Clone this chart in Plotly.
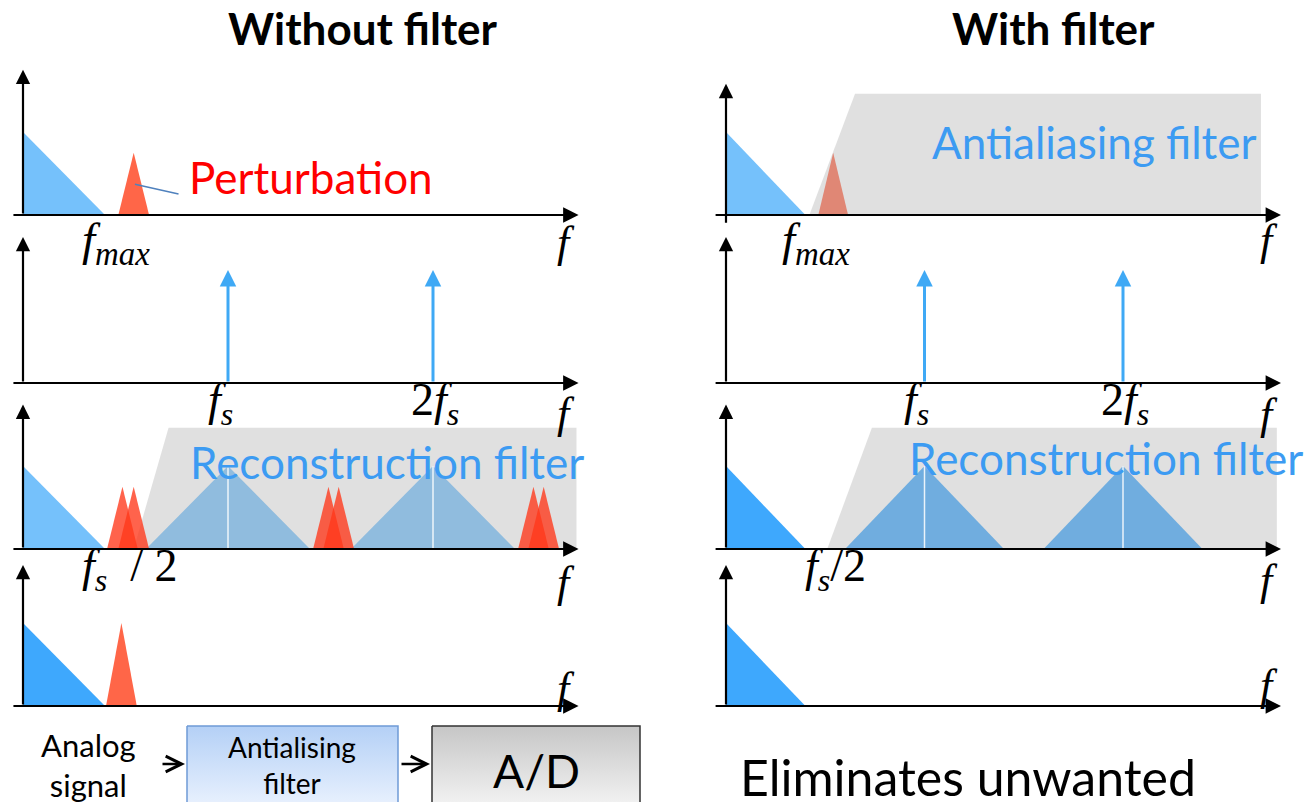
import plotly.graph_objects as go

W, H = 1309, 802

# spectrum values, frequency in arbitrary units with fs = 10
F_MAX = 4.0
SAMPLE_FREQS = [10.0, 20.0]
BASEBAND_HEIGHT = 1.0
SAMPLE_HEIGHT = 1.36
PERT_CENTER = 5.4
PERT_HALF = 0.75
PERT_HEIGHT = 0.75
ALIAS_CENTERS = [4.85, 5.4, 14.9, 15.4, 24.9, 25.4]
OUT_PERT_CENTER = 4.8
OUT_PERT_HEIGHT = 1.0
AA_FILTER_X = [4.2, 6.5, 26.95, 26.95]
AA_FILTER_Y = [0, 1.46, 1.46, 0]
RECON_LEFT_X = [5.4, 7.1, 27.0, 27.0]
RECON_RIGHT_X = [5.1, 7.35, 27.75, 27.75]
RECON_Y = [0, 1.46, 1.46, 0]
FS_HALF = 5.0

TITLES = ["Without filter", "With filter"]
ROW_BASE = [215, 383, 549, 706]
Y_PX = 83.0
COLS = [dict(origin=23, scale=20.5, lo=0, hi=654, xtail=-0.54, xtip=27.1),
        dict(origin=726, scale=19.85, lo=654, hi=1309, xtail=-0.6, xtip=27.96)]

LIGHT = "#75C1FB"
DARK = "#3EA8FD"
RED = "#FF6648"
GRAY_OVER = "rgba(182,182,182,0.42)"
ALIAS_RED = "rgba(255,55,25,0.78)"
TEXT_BLUE = "#3C9BF2"

fig = go.Figure()
layout = dict(width=W, height=H, margin=dict(l=0, r=0, t=0, b=0),
              paper_bgcolor="white", plot_bgcolor="rgba(0,0,0,0)",
              showlegend=False, hovermode=False)
annotations = []


def ax_names(col, row):
    p = col * 4 + row + 1
    return ("x" if p == 1 else f"x{p}"), ("y" if p == 1 else f"y{p}"), p


def tri(xc, half, h):
    return [xc - half, xc, xc + half, xc - half], [0, h, 0, 0]


def poly(col, row, xs, ys, color):
    xa, ya, _ = ax_names(col, row)
    fig.add_trace(go.Scatter(x=xs, y=ys, xaxis=xa, yaxis=ya, mode="lines",
                             line=dict(width=0), fill="toself", fillcolor=color))


def vline(col, row, xv, h, color, width):
    xa, ya, _ = ax_names(col, row)
    fig.add_trace(go.Scatter(x=[xv, xv], y=[0, h], xaxis=xa, yaxis=ya, mode="lines",
                             line=dict(color=color, width=width)))


def label(col, row, xv, text, yshift, xshift=0, size=44, color="black", yv=0, family="Liberation Serif"):
    xa, ya, _ = ax_names(col, row)
    annotations.append(dict(x=xv, y=yv, xref=xa, yref=ya, text=text, showarrow=False,
                            xanchor="center", yanchor="middle", yshift=yshift, xshift=xshift,
                            font=dict(family=family, size=size, color=color)))


# axes
for c, cfg in enumerate(COLS):
    for r, base in enumerate(ROW_BASE):
        xa, ya, p = ax_names(c, r)
        key = "" if p == 1 else str(p)
        layout["xaxis" + key] = dict(
            domain=[cfg["lo"] / W, cfg["hi"] / W], visible=False, anchor=ya,
            range=[(cfg["lo"] - cfg["origin"]) / cfg["scale"], (cfg["hi"] - cfg["origin"]) / cfg["scale"]])
        layout["yaxis" + key] = dict(
            domain=[1 - (base + 12) / H, 1 - (base - 150) / H], visible=False, anchor=xa,
            range=[-12 / Y_PX, 150 / Y_PX])

# left column, row 1: input spectrum with perturbation
poly(0, 0, [0, 0, F_MAX, 0], [0, BASEBAND_HEIGHT, 0, 0], LIGHT)
poly(0, 0, *tri(PERT_CENTER, PERT_HALF, PERT_HEIGHT), RED)
# left row 3: sampled spectrum with aliases
poly(0, 2, [0, 0, F_MAX, 0], [0, BASEBAND_HEIGHT, 0, 0], LIGHT)
for fsv in SAMPLE_FREQS:
    poly(0, 2, [fsv - F_MAX, fsv, fsv + F_MAX, fsv - F_MAX], [0, BASEBAND_HEIGHT, 0, 0], LIGHT)
poly(0, 2, RECON_LEFT_X + [RECON_LEFT_X[0]], RECON_Y + [RECON_Y[0]], GRAY_OVER)
for fsv in SAMPLE_FREQS:
    vline(0, 2, fsv, BASEBAND_HEIGHT, "rgba(255,255,255,0.85)", 1.5)
for ac in ALIAS_CENTERS:
    poly(0, 2, *tri(ac, PERT_HALF, PERT_HEIGHT), ALIAS_RED)
# left row 4: reconstructed
poly(0, 3, [0, 0, F_MAX, 0], [0, BASEBAND_HEIGHT, 0, 0], DARK)
poly(0, 3, *tri(OUT_PERT_CENTER, PERT_HALF, OUT_PERT_HEIGHT), RED)

# right column
poly(1, 0, [0, 0, F_MAX, 0], [0, BASEBAND_HEIGHT, 0, 0], LIGHT)
poly(1, 0, *tri(PERT_CENTER, PERT_HALF, PERT_HEIGHT), RED)
poly(1, 0, AA_FILTER_X + [AA_FILTER_X[0]], AA_FILTER_Y + [AA_FILTER_Y[0]], GRAY_OVER)
poly(1, 2, [0, 0, F_MAX, 0], [0, BASEBAND_HEIGHT, 0, 0], DARK)
for fsv in SAMPLE_FREQS:
    poly(1, 2, [fsv - F_MAX, fsv, fsv + F_MAX, fsv - F_MAX], [0, BASEBAND_HEIGHT, 0, 0], DARK)
poly(1, 2, RECON_RIGHT_X + [RECON_RIGHT_X[0]], RECON_Y + [RECON_Y[0]], GRAY_OVER)
for fsv in SAMPLE_FREQS:
    vline(1, 2, fsv, BASEBAND_HEIGHT, "rgba(255,255,255,0.85)", 1.5)
poly(1, 3, [0, 0, F_MAX, 0], [0, BASEBAND_HEIGHT, 0, 0], DARK)

# axis arrows
Y_TIPS = [[1.75, 1.76, 1.74, 1.7], [1.58, 1.76, 1.74, 1.7]]
for c, cfg in enumerate(COLS):
    for r in range(4):
        xa, ya, _ = ax_names(c, r)
        annotations.append(dict(x=cfg["xtip"], y=0, ax=cfg["xtail"], ay=0, xref=xa, yref=ya,
                                axref=xa, ayref=ya, showarrow=True, arrowhead=2, arrowsize=1.4,
                                arrowwidth=2.2, arrowcolor="black", text=""))
        annotations.append(dict(x=0, y=Y_TIPS[c][r], ax=0, ay=(-0.11 if (c == 1 and r == 0) else 0),
                                xref=xa, yref=ya, axref=xa, ayref=ya, showarrow=True, arrowhead=2,
                                arrowsize=1.3, arrowwidth=2.2, arrowcolor="black", text=""))
        if r == 1:
            for fsv in SAMPLE_FREQS:
                annotations.append(dict(x=fsv, y=SAMPLE_HEIGHT, ax=fsv, ay=0, xref=xa, yref=ya,
                                        axref=xa, ayref=ya, showarrow=True, arrowhead=2,
                                        arrowsize=1.1, arrowwidth=3, arrowcolor="#3FA9F5", text=""))

# f labels
F_SHIFT = [[-27, -31, -33, 18], [-25, -32, -31, 21]]
for c, cfg in enumerate(COLS):
    for r in range(4):
        label(c, r, cfg["xtip"] - 0.6, "<i>f</i>", F_SHIFT[c][r])

for c in range(2):
    label(c, 0, F_MAX, "<i>f</i><sub><i>max</i></sub>", -27, xshift=11, size=47)
    label(c, 1, SAMPLE_FREQS[0], "<i>f</i><sub><i>s</i></sub>", -20, xshift=-8, size=46)
    label(c, 1, SAMPLE_FREQS[1], "2<i>f</i><sub><i>s</i></sub>", -20, xshift=2, size=46)
label(0, 2, FS_HALF, "<i>f</i><sub><i>s</i></sub>&nbsp;&nbsp;/&nbsp;2", -20, xshift=4, size=46)
label(1, 2, FS_HALF, "<i>f</i><sub><i>s</i></sub>/2", -20, xshift=10, size=46)

# text in panels
label(0, 0, 14.05, "Perturbation", 0, size=44, color="#FF0000", yv=0.46, family="Lato")
xa, ya, _ = ax_names(0, 0)
annotations.append(dict(x=5.46, y=0.37, ax=7.66, ay=0.25, xref=xa, yref=ya, axref=xa, ayref=ya,
                        showarrow=True, arrowhead=0, arrowwidth=1.5, arrowcolor="#4F81BD",
                        standoff=0, startstandoff=0, text=""))
label(1, 0, 18.54, "Antialiasing filter", 0, size=44, color=TEXT_BLUE, yv=0.88, family="Lato")
label(0, 2, 17.76, "Reconstruction filter", 0, size=44, color=TEXT_BLUE, yv=1.05, family="Lato")
label(1, 2, 19.14, "Reconstruction filter", 0, size=44, color=TEXT_BLUE, yv=1.1, family="Lato")


# titles and bottom text (paper coordinates from pixels)
def ptext(xp, yp, text, size, color="black"):
    annotations.append(dict(x=xp / W, y=1 - yp / H, xref="paper", yref="paper", text=text,
                            xanchor="center", yanchor="middle", showarrow=False,
                            font=dict(family="Lato", size=size, color=color)))


ptext(363, 28, "<b>" + TITLES[0] + "</b>", 44)
ptext(1053, 28, "<b>" + TITLES[1] + "</b>", 44)
ptext(88, 765, "Analog<br>signal", 31)
ptext(292, 765, "Antialising<br>filter", 28)
ptext(536, 770, "A/D", 46)
ptext(968, 777, "Eliminates unwanted", 50)

# block diagram
layout["xaxis9"] = dict(domain=[0, 654 / W], range=[0, 654], visible=False, anchor="y9")
layout["yaxis9"] = dict(domain=[0, 1 - 715 / H], range=[802, 715], visible=False, anchor="x9")
BOXES = [([187, 398], "#EAF2FE", "#B4D0F6", "#6F9BD6"), ([432, 640], "#F4F4F4", "#C6C6C6", "#333333")]
for (x0, x1), top, bot, edge in BOXES:
    fig.add_trace(go.Scatter(x=[x0, x1, x1, x0, x0], y=[726, 726, 808, 808, 726], xaxis="x9", yaxis="y9",
                             mode="lines", line=dict(color=edge, width=1.5), fill="toself",
                             fillgradient=dict(type="vertical", colorscale=[[0, top], [1, bot]])))
for tip, length in [(185, 24), (430, 30)]:
    annotations.append(dict(x=tip / W, y=1 - 764 / H, xref="paper", yref="paper", ax=-length, ay=0,
                            showarrow=True, arrowhead=5, arrowsize=1.3, arrowwidth=2.4,
                            arrowcolor="black", text=""))

layout["annotations"] = annotations
fig.update_layout(**layout)
fig.write_html("out.html", config={"displayModeBar": False},
               post_script="document.body.style.margin='0';")
